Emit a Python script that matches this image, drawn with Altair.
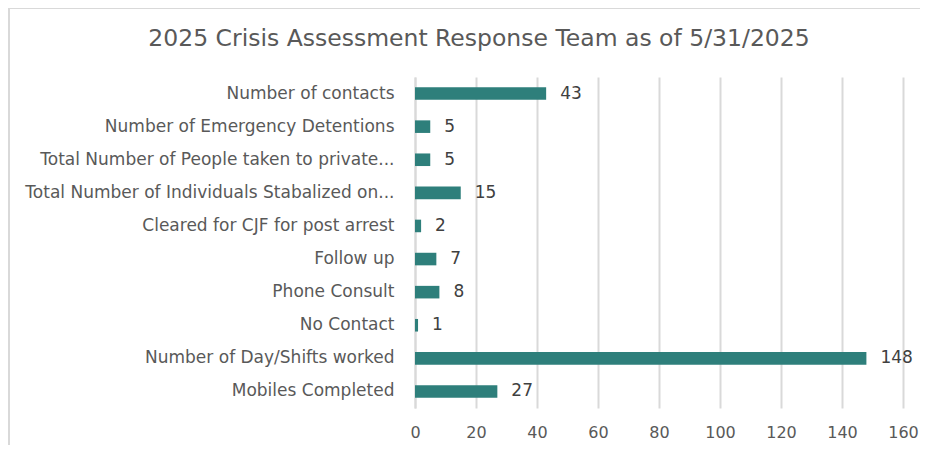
import altair as alt
import pandas as pd

categories = [
    "Number of contacts",
    "Number of Emergency Detentions",
    "Total Number of People taken to private...",
    "Total Number of Individuals Stabalized on...",
    "Cleared for CJF for post arrest",
    "Follow up",
    "Phone Consult",
    "No Contact",
    "Number of Day/Shifts worked ",
    "Mobiles Completed",
]
values = [43, 5, 5, 15, 2, 7, 8, 1, 148, 27]
x_ticks = [0, 20, 40, 60, 80, 100, 120, 140, 160]
title_text = ["2025 Crisis Assessment Response Team as of 5/31/2025"]

df = pd.DataFrame({"category": categories, "value": values})
tdf = pd.DataFrame({"t": title_text})

FONT = "DejaVu Sans"
GRAY = "#595959"

y_enc = alt.Y(
    "category:N",
    sort=categories,
    title=None,
    scale=alt.Scale(paddingInner=0.62, paddingOuter=0.31),
    axis=alt.Axis(
        ticks=False,
        domain=True,
        domainColor="#d9d9d9",
        domainWidth=2,
        labelFont=FONT,
        labelFontSize=17,
        labelColor=GRAY,
        labelPadding=21,
        labelLimit=420,
        grid=False,
    ),
)
x_enc = alt.X(
    "value:Q",
    title=None,
    scale=alt.Scale(domain=[0, 160], nice=False),
    axis=alt.Axis(
        values=x_ticks,
        grid=True,
        gridColor="#d9d9d9",
        gridWidth=2,
        domain=False,
        ticks=False,
        labelFlush=False,
        labelFont=FONT,
        labelFontSize=16,
        labelColor=GRAY,
        labelPadding=16,
    ),
)

bars = alt.Chart(df).mark_bar(color="#2E7F7B").encode(x=x_enc, y=y_enc)
labels = alt.Chart(df).mark_text(
    align="left", baseline="middle", dx=14, font=FONT, fontSize=17, color="#404040"
).encode(x="value:Q", y=alt.Y("category:N", sort=categories), text="value:Q")

title = alt.Chart(tdf).mark_text(
    align="center", baseline="middle", font=FONT, fontSize=23.5, color=GRAY
).encode(x=alt.value(64), y=alt.value(-38), text="t:N")

border_top = alt.Chart(df).mark_rule(color="#d9d9d9", strokeWidth=2).encode(
    x=alt.value(-407), x2=alt.value(505), y=alt.value(-69)
)
border_left = alt.Chart(df).mark_rule(color="#d9d9d9", strokeWidth=2).encode(
    x=alt.value(-406), y=alt.value(-69), y2=alt.value(380)
)

chart = (
    alt.layer(border_top, border_left, bars, labels, title)
    .properties(
        width=488,
        height=331,
        autosize=alt.AutoSizeParams(type="none"),
        padding={"left": 407, "top": 69, "right": 17, "bottom": 37},
    )
    .configure_view(stroke=None)
)

chart.save("out.html", embed_options={"renderer": "svg", "actions": False})
